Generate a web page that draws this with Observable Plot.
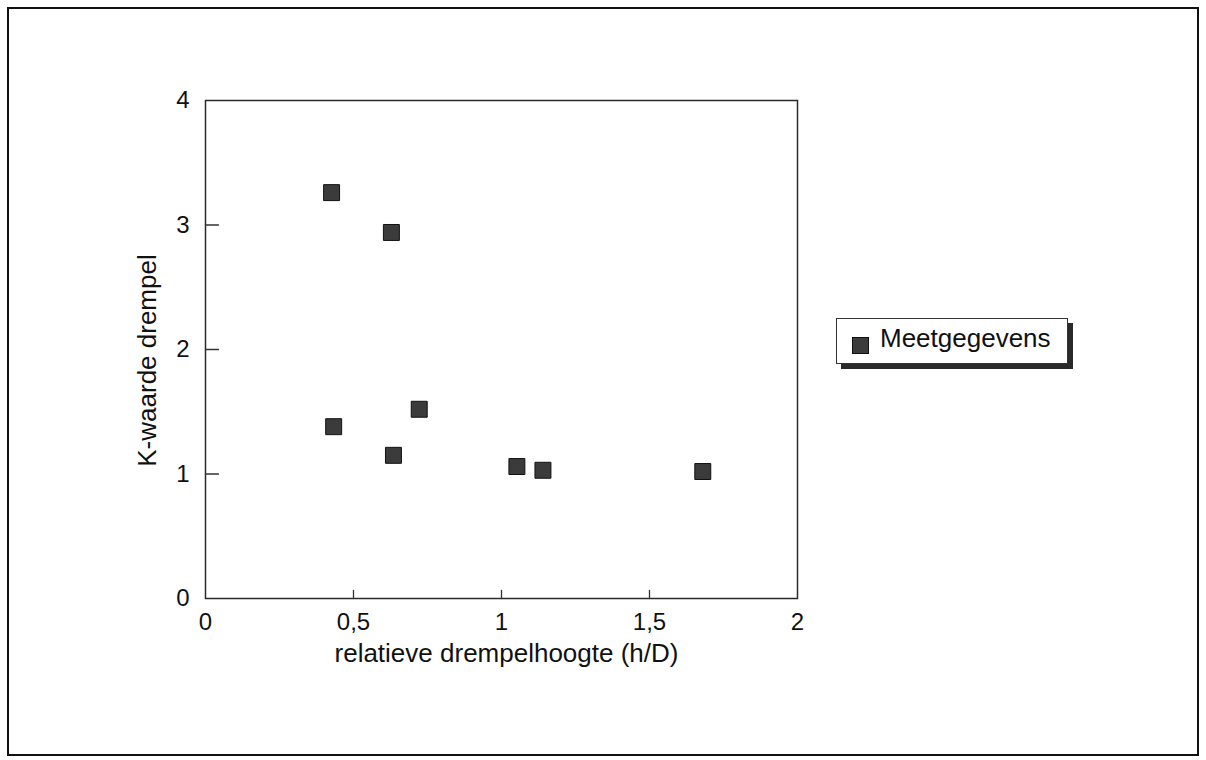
<!DOCTYPE html>
<html>
<head>
<meta charset="utf-8">
<script src="https://cdn.jsdelivr.net/npm/d3@7"></script>
<script src="https://cdn.jsdelivr.net/npm/@observablehq/plot@0.6"></script>
<style>
  html, body { margin: 0; padding: 0; background: #fff; }
  #wrap { position: relative; width: 1206px; height: 760px; overflow: hidden; font-family: "Liberation Sans", Arial, sans-serif; }
  #chart { position: absolute; left: 0; top: 0; }
  #outer { position: absolute; left: 7px; top: 7px; width: 1192px; height: 749px; box-sizing: border-box; border: 2px solid #111; pointer-events: none; }
  #legend { position: absolute; left: 836px; top: 318px; width: 232px; height: 46px; box-sizing: border-box; border: 1.5px solid #333; background: #fff; box-shadow: 5px 5px 0 #2a2a2a; }
  #legend .sw { position: absolute; left: 15px; top: 18px; width: 17px; height: 17px; box-sizing: border-box; background: #3b3b3b; border: 1px solid #111; }
  #legend .tx { position: absolute; left: 43px; top: 6px; font-size: 26px; line-height: 26px; color: #111; white-space: nowrap; }
</style>
</head>
<body>
<div id="wrap">
  <div id="chart"></div>
  <div id="outer"></div>
  <div id="legend"><div class="sw"></div><div class="tx"></div></div>
</div>
<script>
// Data
const hD = [0.426, 0.628, 0.433, 0.635, 0.722, 1.052, 1.14, 1.68];
const kWaarde = [3.26, 2.94, 1.38, 1.15, 1.52, 1.06, 1.03, 1.02];
const xTicks = [0, 0.5, 1, 1.5, 2];
const yTicks = [0, 1, 2, 3, 4];
const xInnerTicks = [0.5, 1, 1.5];
const yInnerTicks = [1, 2, 3];
const xLabel = "relatieve drempelhoogte (h/D)";
const yLabel = "K-waarde drempel";
const seriesName = "Meetgegevens";

const data = hD.map((x, i) => ({x, y: kWaarde[i]}));
const fmt = d => String(d).replace(".", ",");
const tickShape = { draw(ctx, l) { ctx.moveTo(0, 0); ctx.lineTo(0, -l); } };

const chart = Plot.plot({
  width: 1206,
  height: 760,
  marginLeft: 205,
  marginRight: 409,
  marginTop: 100,
  marginBottom: 162,
  style: { fontFamily: '"Liberation Sans", Arial, sans-serif', background: "transparent", color: "#111" },
  x: { domain: [0, 2] },
  y: { domain: [0, 4] },
  marks: [
    Plot.frame({ stroke: "#2a2a2a", strokeWidth: 1.5 }),
    Plot.vector(yInnerTicks, { y: d => d, frameAnchor: "left", length: 13, rotate: 90, anchor: "start", shape: tickShape, stroke: "#333", strokeWidth: 1.3 }),
    Plot.vector(xInnerTicks, { x: d => d, frameAnchor: "bottom", length: 8, rotate: 0, anchor: "start", shape: tickShape, stroke: "#333", strokeWidth: 1.3 }),
    Plot.axisX({ ticks: xTicks, tickSize: 0, tickPadding: 14, fontSize: 24, tickFormat: fmt, label: null, fill: "#111" }),
    Plot.axisY({ ticks: yTicks, tickSize: 0, tickPadding: 16, fontSize: 24, tickFormat: fmt, label: null, fill: "#111" }),
    Plot.text([xLabel], { text: d => d, frameAnchor: "bottom", textAnchor: "middle", dx: 5, dy: 55, fontSize: 26, lineAnchor: "middle", fill: "#111" }),
    Plot.text([yLabel], { text: d => d, frameAnchor: "left", textAnchor: "middle", rotate: -90, dx: -58, dy: 11, fontSize: 26, lineAnchor: "middle", fill: "#111" }),
    Plot.dot(data, { x: "x", y: "y", symbol: "square", r: 9, fill: "#3b3b3b", stroke: "#111", strokeWidth: 1 })
  ]
});
document.getElementById("chart").appendChild(chart);
document.querySelector("#legend .tx").textContent = seriesName;
</script>
</body>
</html>
